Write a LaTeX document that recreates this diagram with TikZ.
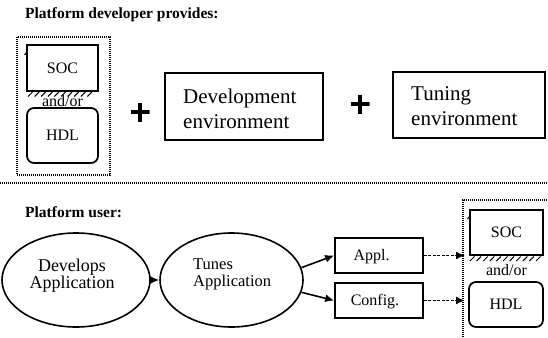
\documentclass[tikz,border=0pt]{standalone}
\usepackage{fontspec}
\setmainfont{Liberation Serif}
\usetikzlibrary{arrows.meta,shapes.geometric}
\begin{document}
\begin{tikzpicture}[x=1pt,y=-1pt,
  box/.style={draw,line width=1.7pt,inner sep=0pt},
  rbox/.style={box,rounded corners=7pt},
  lbl/.style={inner sep=0pt},
  oval/.style={draw,ellipse,line width=1.6pt,inner sep=0pt},
  arr/.style={-{Latex[length=9pt,width=8pt]},line width=1.6pt},
  dashedarr/.style={arr,dash pattern=on 3pt off 1.5pt},
  dots/.style={line width=1.1pt,dash pattern=on 1pt off 1pt},
  hatch/.style={line width=1pt},
  small/.style={font=\fontsize{16}{18}\selectfont},
  big/.style={font=\fontsize{21}{25}\selectfont},
  head/.style={font=\fontsize{15.5}{18}\selectfont\bfseries},
  plus/.style={minimum size=19pt,inner sep=0pt,
    path picture={\draw[line width=4pt]
      (path picture bounding box.west) -- (path picture bounding box.east)
      (path picture bounding box.north) -- (path picture bounding box.south);}}]
\useasboundingbox (0,0) rectangle (548,337);

% ---------- top part ----------
\node[lbl,head,anchor=west] (t1) at (25,15) {Platform developer provides:};

\node[draw,dots,minimum width=93pt,minimum height=138pt,inner sep=0pt] (pd) at (63.5,106) {};
\node[box,small,minimum width=71pt,minimum height=46pt] (soc1) at (62.5,68) {SOC};
\foreach \i in {0,...,9} \draw[hatch] (28+\i*6.6,96.5) -- ++(4.5,-4.5);
\draw[hatch] (24.5,55) -- (27,52);
\node[lbl,small] (ao1) at (62.5,101) {and/or};
\node[rbox,small,minimum width=71pt,minimum height=55pt] (hdl1) at (62.5,135.5) {HDL};

\node[plus] (p1) at (140,112) {};

\node[box,minimum width=158pt,minimum height=67pt] (dev) at (244,106.5) {};
\node[lbl,big,anchor=west,align=left] (devt) at (183,109) {Development\\environment};

\node[plus] (p2) at (360,104) {};

\node[box,minimum width=152pt,minimum height=66pt] (tun) at (469,105) {};
\node[lbl,big,anchor=west,align=left] (tunt) at (411,106.5) {Tuning\\environment};

\draw[dots] (0,183) -- (548,183);

% ---------- bottom part ----------
\node[lbl,head,anchor=west] (t2) at (25,212) {Platform user:};

\node[oval,minimum width=148pt,minimum height=94pt] (e1) at (76,280) {};
\node[lbl,align=center,font=\fontsize{18}{17}\selectfont] (e1t) at (72,276) {Develops\\Application};

\node[oval,minimum width=143pt,minimum height=94pt] (e2) at (231.5,280) {};
\node[lbl,anchor=west,align=left,font=\fontsize{16.5}{17}\selectfont] (e2t) at (193,274) {Tunes\\Application};

\draw[arr] (e1.east) -- (e2.west);

\node[box,minimum width=88pt,minimum height=35pt] (appl) at (379,255.5) {};
\node[lbl,small] (applt) at (371.5,257) {Appl.};
\node[box,minimum width=88pt,minimum height=35pt] (conf) at (379,300.5) {};
\node[lbl,small] (conft) at (375,302) {Config.};

\draw[arr] (e2.10) -- (appl.west);
\draw[arr] (e2.-10) -- (conf.west);

\draw[dots] (463,337) -- (463,200) -- (548,200);
\coordinate (a1) at (465,255.5);
\coordinate (a2) at (465,300.5);
\draw[dashedarr] (appl.east) -- (a1);
\draw[dashedarr] (conf.east) -- (a2);

\node[box,small,minimum width=73pt,minimum height=45pt] (soc2) at (506.5,232.5) {SOC};
\foreach \i in {0,...,10} \draw[hatch] (470+\i*6.6,261) -- ++(4.5,-4.5);
\draw[hatch] (467.5,219) -- (470,216);
\node[lbl,small] (ao2) at (506.5,270) {and/or};
\node[rbox,small,minimum width=74pt,minimum height=45pt] (hdl2) at (506,304.5) {HDL};
\end{tikzpicture}
\end{document}
